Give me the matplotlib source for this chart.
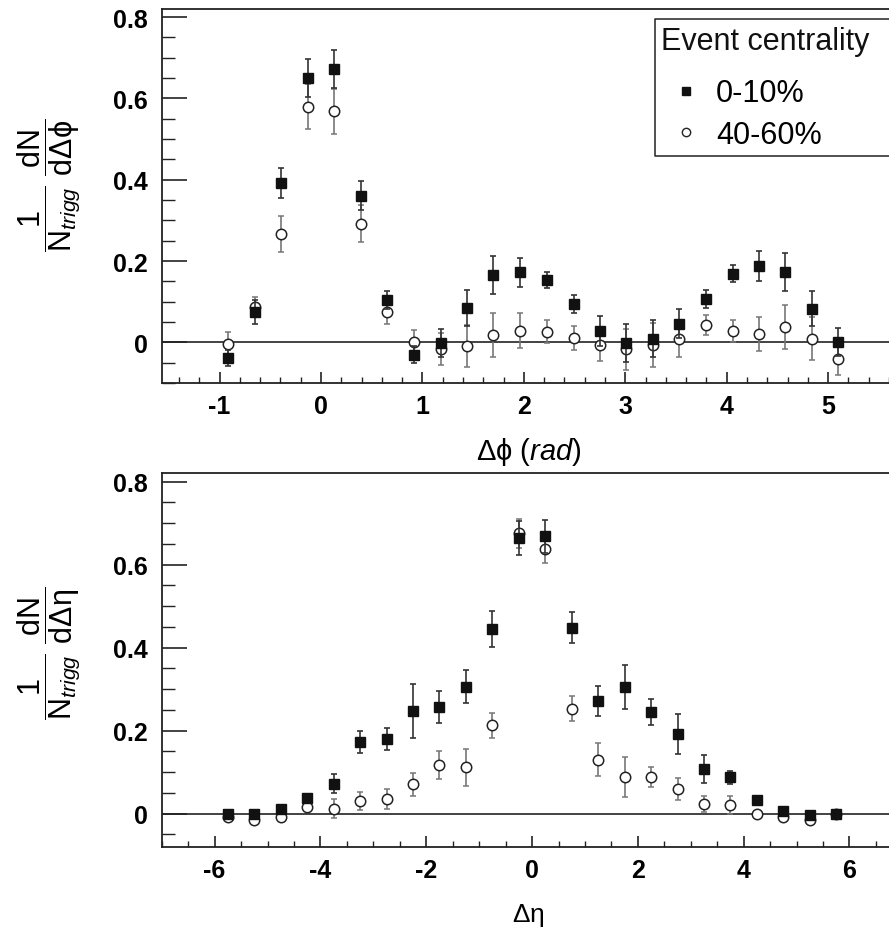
import matplotlib
matplotlib.use("Agg")
import matplotlib.pyplot as plt
from matplotlib.lines import Line2D
from matplotlib.ticker import MultipleLocator

plt.rcParams['font.family'] = ['Liberation Sans', 'DejaVu Sans']
plt.rcParams['mathtext.fontset'] = 'custom'
plt.rcParams['mathtext.rm'] = 'Liberation Sans'
plt.rcParams['mathtext.it'] = 'Liberation Sans:italic'
plt.rcParams['mathtext.bf'] = 'Liberation Sans:bold'

# delta phi panel
dphi = [-0.92, -0.65, -0.39, -0.13, 0.13, 0.39, 0.65, 0.92, 1.18, 1.44, 1.70, 1.96,
        2.23, 2.49, 2.75, 3.01, 3.27, 3.53, 3.80, 4.06, 4.32, 4.58, 4.84, 5.10]
phi_c010 = [-0.038, 0.075, 0.393, 0.650, 0.672, 0.361, 0.104, -0.030, -0.001, 0.085, 0.165, 0.172,
            0.153, 0.095, 0.028, -0.001, 0.009, 0.046, 0.106, 0.169, 0.188, 0.173, 0.083, 0.001]
phi_c010_err = [0.020, 0.030, 0.037, 0.047, 0.047, 0.036, 0.023, 0.022, 0.034, 0.045, 0.047, 0.036,
                0.020, 0.022, 0.037, 0.047, 0.045, 0.035, 0.022, 0.021, 0.036, 0.046, 0.044, 0.034]
phi_c4060 = [-0.003, 0.087, 0.266, 0.580, 0.568, 0.292, 0.075, 0.001, -0.016, -0.009, 0.017, 0.028,
             0.026, 0.011, -0.007, -0.017, -0.007, 0.009, 0.042, 0.028, 0.021, 0.038, 0.009, -0.040]
phi_c4060_err = [0.028, 0.025, 0.044, 0.055, 0.055, 0.045, 0.029, 0.029, 0.040, 0.052, 0.054, 0.043,
                 0.028, 0.030, 0.040, 0.050, 0.054, 0.045, 0.025, 0.026, 0.042, 0.055, 0.053, 0.041]

# delta eta panel
deta = [-5.75, -5.25, -4.75, -4.25, -3.75, -3.25, -2.75, -2.25, -1.75, -1.25, -0.75, -0.25,
        0.25, 0.75, 1.25, 1.75, 2.25, 2.75, 3.25, 3.75, 4.25, 4.75, 5.25, 5.75]
eta_c010 = [0.000, 0.000, 0.010, 0.038, 0.072, 0.173, 0.179, 0.247, 0.257, 0.306, 0.444, 0.664,
            0.668, 0.448, 0.271, 0.305, 0.245, 0.192, 0.107, 0.087, 0.033, 0.005, -0.003, 0.000]
eta_c010_err = [0.008, 0.008, 0.008, 0.010, 0.023, 0.027, 0.026, 0.064, 0.038, 0.040, 0.043, 0.040,
                0.040, 0.037, 0.036, 0.052, 0.032, 0.049, 0.034, 0.015, 0.008, 0.008, 0.008, 0.008]
eta_c4060 = [-0.008, -0.016, -0.008, 0.016, 0.012, 0.030, 0.034, 0.070, 0.116, 0.111, 0.213, 0.676,
             0.638, 0.253, 0.130, 0.088, 0.088, 0.059, 0.023, 0.020, -0.002, -0.009, -0.016, -0.002]
eta_c4060_err = [0.008, 0.008, 0.008, 0.010, 0.022, 0.022, 0.024, 0.028, 0.034, 0.044, 0.030, 0.035,
                 0.035, 0.030, 0.040, 0.048, 0.024, 0.026, 0.020, 0.022, 0.008, 0.008, 0.008, 0.008]

labels = ['0-10%', '40-60%']
legend_title = 'Event centrality'
ytick_labels = ['0', '0.2', '0.4', '0.6', '0.8']
phi_ticks = ['-1', '0', '1', '2', '3', '4', '5']
eta_ticks = ['-6', '-4', '-2', '0', '2', '4', '6']

W, H = 889, 928
fig = plt.figure(figsize=(W / 100, H / 100), dpi=100)


def make_axes(l, t, r, b):
    return fig.add_axes([l / W, 1 - b / H, (r - l) / W, (b - t) / H])


tick_font = dict(family='Liberation Sans', weight='bold', size=18)


def style(ax):
    for s in ['left', 'bottom', 'top']:
        ax.spines[s].set_linewidth(1.3)
        ax.spines[s].set_color('#222222')
    ax.spines['right'].set_visible(False)
    ax.tick_params(axis='y', which='major', direction='in', length=18, width=1.2, color='#222222', pad=10)
    ax.tick_params(axis='y', which='minor', direction='in', length=9.5, width=1.0, color='#222222')
    ax.tick_params(axis='x', which='major', direction='in', length=8, width=1.2, color='#222222', pad=8)
    ax.tick_params(axis='x', which='minor', direction='in', length=4.5, width=1.0, color='#222222')
    ax.tick_params(which='both', top=False, right=False)
    ax.yaxis.set_minor_locator(MultipleLocator(0.05))
    ax.set_yticks([0, 0.2, 0.4, 0.6, 0.8])
    ax.set_yticklabels(ytick_labels, fontdict=tick_font)
    ax.axhline(0, color='#222222', lw=1.2, zorder=1)


def draw(ax, x, y1, e1, y2, e2):
    ax.errorbar(x, y1, yerr=e1, fmt='s', ms=6.5, mfc='#111111', mec='#111111',
                ecolor='#333333', elinewidth=1.2, capsize=2.5, capthick=1.2, zorder=4)
    ax.errorbar(x, y2, yerr=e2, fmt='o', ms=7.5, mfc='white', mec='#222222',
                mew=1.1, ecolor='#777777', elinewidth=1.2, capsize=2.5, capthick=1.2, zorder=3)


# top panel
ax1 = make_axes(161.7, 10, 895, 384)
style(ax1)
draw(ax1, dphi, phi_c010, phi_c010_err, phi_c4060, phi_c4060_err)
ax1.set_xlim(-1.571, 5.66)
ax1.set_ylim(-0.1, 0.82)
ax1.xaxis.set_minor_locator(MultipleLocator(0.2))
ax1.set_xticks([-1, 0, 1, 2, 3, 4, 5])
ax1.set_xticklabels(phi_ticks, fontdict=tick_font)
ax1.set_xlabel(r'$\Delta\mathrm{\phi}$ $\mathit{(rad)}$', fontsize=21)
ax1.xaxis.set_label_coords(0.5, -0.14)
ax1.set_ylabel(r'$\dfrac{\mathit{1}}{\mathrm{N}_{\mathit{trigg}}}\ \dfrac{\mathrm{dN}}{\mathrm{d}\Delta\mathrm{\phi}}$',
               fontsize=22)
ax1.yaxis.set_label_coords(-0.109, 0.53)

# legend: box (open on the cut-off right side) and title by hand, entries through ax.legend
fig.add_artist(Line2D([920 / W, 655 / W, 655 / W, 920 / W], [1 - 20 / H, 1 - 20 / H, 1 - 157 / H, 1 - 157 / H],
                      transform=fig.transFigure, color='#222222', lw=1.1, zorder=5))
fig.text(661 / W, 1 - 42 / H, legend_title, fontsize=22, va='center', ha='left', color='#111111')
sq = ax1.plot([], [], 's', ms=6, mfc='#111111', mec='#111111')[0]
ci = ax1.plot([], [], 'o', ms=6, mfc='white', mec='#222222', mew=1.0)[0]
ax1.legend([sq, ci], labels, loc='center left', bbox_to_anchor=(660 / W, 1 - 115 / H),
           bbox_transform=fig.transFigure, fontsize=22, frameon=False,
           handletextpad=0.1, borderpad=0, labelspacing=0.36, handlelength=1.73, borderaxespad=0)

# bottom panel
ax2 = make_axes(161.7, 474.3, 895, 847.7)
style(ax2)
draw(ax2, deta, eta_c010, eta_c010_err, eta_c4060, eta_c4060_err)
ax2.set_xlim(-7, 6.86)
ax2.set_ylim(-0.08, 0.82)
ax2.xaxis.set_minor_locator(MultipleLocator(0.5))
ax2.set_xticks([-6, -4, -2, 0, 2, 4, 6])
ax2.set_xticklabels(eta_ticks, fontdict=tick_font)
ax2.set_xlabel(r'$\Delta\mathrm{\eta}$', fontsize=19)
ax2.xaxis.set_label_coords(0.5, -0.145)
ax2.set_ylabel(r'$\dfrac{\mathit{1}}{\mathrm{N}_{\mathit{trigg}}}\ \dfrac{\mathrm{dN}}{\mathrm{d}\Delta\mathrm{\eta}}$',
               fontsize=22)
ax2.yaxis.set_label_coords(-0.109, 0.52)

fig.savefig('out.png', dpi=100)
